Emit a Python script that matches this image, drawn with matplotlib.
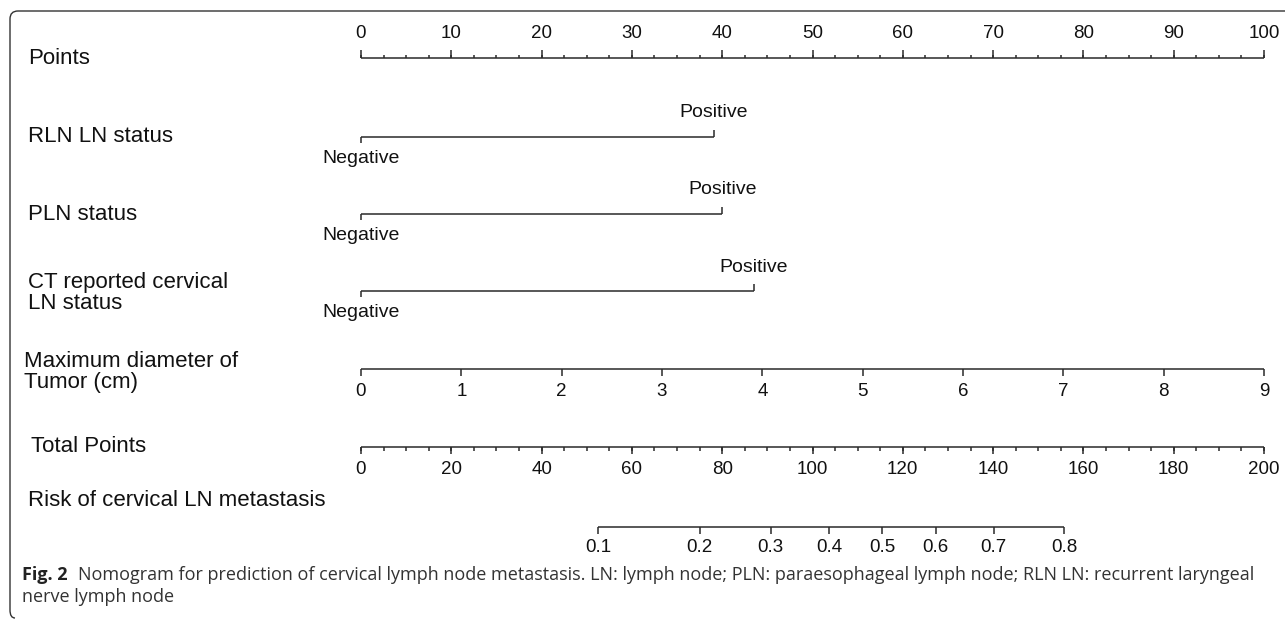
import matplotlib
matplotlib.use("Agg")
import matplotlib.pyplot as plt
from matplotlib.path import Path
from matplotlib.patches import PathPatch
import numpy as np

# ---------------- data ----------------
points_ticks = list(range(0, 101, 10))
points_minor = [x * 2.5 for x in range(0, 41)]

row_labels = ["Points", "RLN LN status", "PLN status", "CT reported cervical\nLN status",
              "Maximum diameter of\nTumor (cm)", "Total Points", "Risk of cervical LN metastasis"]

rln_levels = ["Negative", "Positive"]
rln_points = [0, 39.1]
pln_levels = ["Negative", "Positive"]
pln_points = [0, 40.0]
ct_levels = ["Negative", "Positive"]
ct_points = [0, 43.5]

diam_values = [0, 1, 2, 3, 4, 5, 6, 7, 8, 9]
diam_max_value = 9
diam_max_points = 100

total_ticks = list(range(0, 201, 20))
total_minor = list(range(0, 201, 5))
total_max = 200

risk_values = [0.1, 0.2, 0.3, 0.4, 0.5, 0.6, 0.7, 0.8]
risk_total_points = [52.5, 75.0, 90.7, 103.7, 115.5, 127.3, 140.1, 155.7]
risk_labels = ["0.1", "0.2", "0.3", "0.4", "0.5", "0.6", "0.7", "0.8"]

caption_bold = "Fig. 2"
caption_rest = ("Nomogram for prediction of cervical lymph node metastasis. LN: lymph node; "
                "PLN: paraesophageal lymph node; RLN LN: recurrent laryngeal")
caption_line2 = "nerve lymph node"

# ---------------- layout ----------------
W, H = 1285, 620
PX0, PX100 = 361, 1264
scale = (PX100 - PX0) / 100.0

fig = plt.figure(figsize=(W / 100, H / 100), dpi=100)
ax = fig.add_axes([0, 0, 1, 1])
ax.set_xlim(-PX0 / scale, (W - PX0) / scale)
ax.set_ylim(H, 0)
ax.axis("off")

LC = "#2a2a2a"
LW = 1.1
FONT = ["Liberation Sans", "DejaVu Sans"]
LAB_FS = 16
VAL_FS = 14
TICK_FS = 13.5


def hline(x0, x1, y):
    ax.plot([x0, x1], [y, y], color=LC, lw=LW, solid_capstyle="butt")


def tick(x, y, length):
    ax.plot([x, x], [y, y + length], color=LC, lw=LW, solid_capstyle="butt")


def txt(x, y, s, fs, ha="center", va="center", **kw):
    ax.text(x, y, s, fontsize=fs, ha=ha, va=va, family=FONT, color="#111111", **kw)


lab_x = lambda px: (px - PX0) / scale
label_pos = [(28, 58), (28, 137), (28, 214), (28, 293), (24, 372), (31, 446), (28, 500)]
for (px, py), s in zip(label_pos, row_labels):
    txt(lab_x(px), py, s, LAB_FS, ha="left", linespacing=0.95)

# Points axis (ticks up)
y = 58
hline(points_ticks[0], points_ticks[-1], y)
for m in points_minor:
    tick(m, y, -3.5)
for t in points_ticks:
    tick(t, y, -7.6)
    txt(t, 33, str(t), TICK_FS)

# categorical rows
for ly, lev, pts in [(136.7, rln_levels, rln_points),
                     (214, pln_levels, pln_points),
                     (291, ct_levels, ct_points)]:
    hline(pts[0], pts[1], ly)
    tick(pts[0], ly, 6)
    tick(pts[1], ly, -7)
    txt(pts[0], ly + 21.5, lev[0], VAL_FS)
    txt(pts[1], ly - 24, lev[1], VAL_FS)

# Maximum diameter axis (ticks down)
y = 369
dpos = [v * diam_max_points / diam_max_value for v in diam_values]
hline(dpos[0], dpos[-1], y)
for p, v in zip(dpos, diam_values):
    tick(p, y, 6.5)
    txt(p, 391, str(v), TICK_FS)

# Total points axis
y = 447
tp2pt = lambda tp: tp * 100.0 / total_max
hline(tp2pt(total_ticks[0]), tp2pt(total_ticks[-1]), y)
for m in total_minor:
    tick(tp2pt(m), y, 3.5)
for t in total_ticks:
    tick(tp2pt(t), y, 7)
    txt(tp2pt(t), 470, str(t), TICK_FS)

# Risk axis
y = 527
rpos = [tp2pt(tp) for tp in risk_total_points]
hline(rpos[0], rpos[-1], y)
for p, s in zip(rpos, risk_labels):
    tick(p, y, 7)
    txt(p, 548, s, TICK_FS)

# ---------------- caption ----------------
CAP_FONT = ["Open Sans", "DejaVu Sans"]
cap_fs = 13.0
fig.canvas.draw()
r = fig.canvas.get_renderer()
t1 = fig.text(22 / W, 1 - 575 / H, caption_bold, fontsize=cap_fs, fontweight="bold",
              family=CAP_FONT, ha="left", va="center", color="#222222")
t2 = fig.text(0, 1 - 575 / H, caption_rest, fontsize=cap_fs, family=CAP_FONT,
              ha="left", va="center", color="#333333")
t3 = fig.text(22 / W, 1 - 597 / H, caption_line2, fontsize=cap_fs, family=CAP_FONT,
              ha="left", va="center", color="#333333")


def layout(fs):
    for t in (t1, t2, t3):
        t.set_fontsize(fs)
    b1 = t1.get_window_extent(r)
    gap = 0.55 * fs * 100 / 72
    t2.set_x((b1.x1 + gap) / W)
    b2 = t2.get_window_extent(r)
    return b2.x1


target = 1262
for _ in range(4):
    right = layout(cap_fs)
    cap_fs *= (target - 22) / (right - 22)
layout(cap_fs)

# ---------------- frame (top and left with rounded corners) ----------------
rad = 8
top, left, bottom = 11, 10, 618
verts = [(W, top), (left + rad, top), (left, top), (left, top + rad),
         (left, bottom - rad), (left, bottom), (left + 5, bottom)]
codes = [Path.MOVETO, Path.LINETO, Path.CURVE3, Path.CURVE3,
         Path.LINETO, Path.CURVE3, Path.CURVE3]
verts_fig = [(vx / W, 1 - vy / H) for vx, vy in verts]
frame = PathPatch(Path(verts_fig, codes), transform=fig.transFigure, fill=False,
                  edgecolor="#333333", lw=1.0)
fig.add_artist(frame)

fig.savefig("out.png", dpi=100)
